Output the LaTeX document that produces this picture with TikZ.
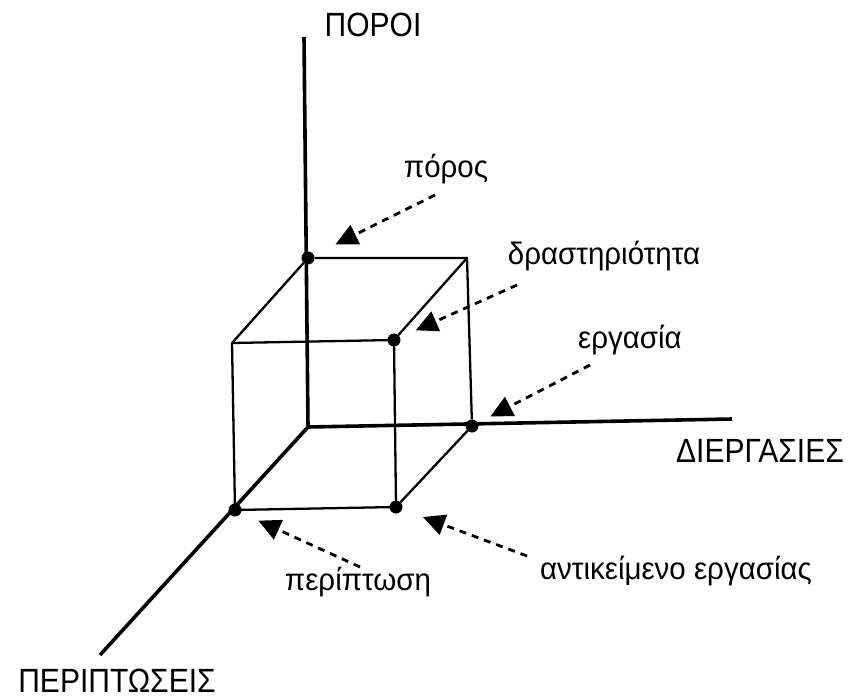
\documentclass[tikz,border=0pt]{standalone}
\usepackage{fontspec}
\setmainfont{Liberation Sans}
\usetikzlibrary{arrows.meta}
\begin{document}
\begin{tikzpicture}[x=1pt,y=-1pt,
  axis/.style={line width=3.6pt},
  edge/.style={line width=2.3pt},
  dot/.style={circle,fill=black,inner sep=0pt,minimum size=13pt},
  caplabel/.style={inner sep=0pt,anchor=base,yscale=1.12,font=\fontsize{30}{34}\selectfont},
  lowlabel/.style={inner sep=0pt,anchor=base,yscale=1.05,font=\fontsize{29.5}{34}\selectfont},
  pointer/.style={line width=2.8pt,dash pattern=on 7pt off 6pt,
     -{Triangle[length=22pt,width=21pt]}}]
\useasboundingbox (0,0) rectangle (854,698);
% corners and axis ends
\coordinate (O) at (308,427);
\coordinate (ytop) at (304,37);
\coordinate (xend) at (732,419);
\coordinate (zend) at (100,655);
\coordinate (bTR) at (467,258);
\coordinate (fTL) at (232,343);
% cube dots
\node[dot] (pA) at (308,258) {};
\node[dot] (pB) at (394,340) {};
\node[dot] (pC) at (472,426) {};
\node[dot] (pD) at (396,507) {};
\node[dot] (pE) at (235,510) {};
% axes
\draw[axis] (ytop) -- (O) -- (xend);
\draw[axis] (O) -- (zend);
% cube edges
\draw[edge] (pA) -- (bTR) -- (pC);
\draw[edge] (fTL) -- (pB.center);
\draw[edge] (pB.center) -- (pD.center);
\draw[edge] (pD.center) -- (pE.center);
\draw[edge] (pE.center) -- (fTL);
\draw[edge] (fTL) -- (pA);
\draw[edge] (pB) -- (bTR);
\draw[edge] (pD) -- (pC);
% labels
\node[caplabel] (poroi) at (373,37) {ΠΟΡΟΙ};
\node[caplabel] (diergasies) at (760,462) {ΔΙΕΡΓΑΣΙΕΣ};
\node[caplabel] (periptoseis) at (117,692) {ΠΕΡΙΠΤΩΣΕΙΣ};
\node[lowlabel] (poros) at (446,178) {πόρος};
\node[lowlabel] (drast) at (604,264) {δραστηριότητα};
\node[lowlabel] (ergasia) at (630,348) {εργασία};
\node[lowlabel] (antik) at (676,579) {αντικείμενο εργασίας};
\node[lowlabel] (perip) at (358,590) {περίπτωση};
% pointer tails
\coordinate (tA) at (435,195);
\coordinate (tB) at (517,285);
\coordinate (tC) at (590,365);
\coordinate (tD) at (527,556);
\coordinate (tE) at (360,567);
\draw[pointer,shorten >=24pt] (tA) -- (pA);
\draw[pointer,shorten >=17pt] (tB) -- (pB);
\draw[pointer,shorten >=14pt] (tC) -- (pC);
\draw[pointer,shorten >=22pt] (tD) -- (pD);
\draw[pointer,shorten >=19pt] (tE) -- (pE);
\end{tikzpicture}
\end{document}
